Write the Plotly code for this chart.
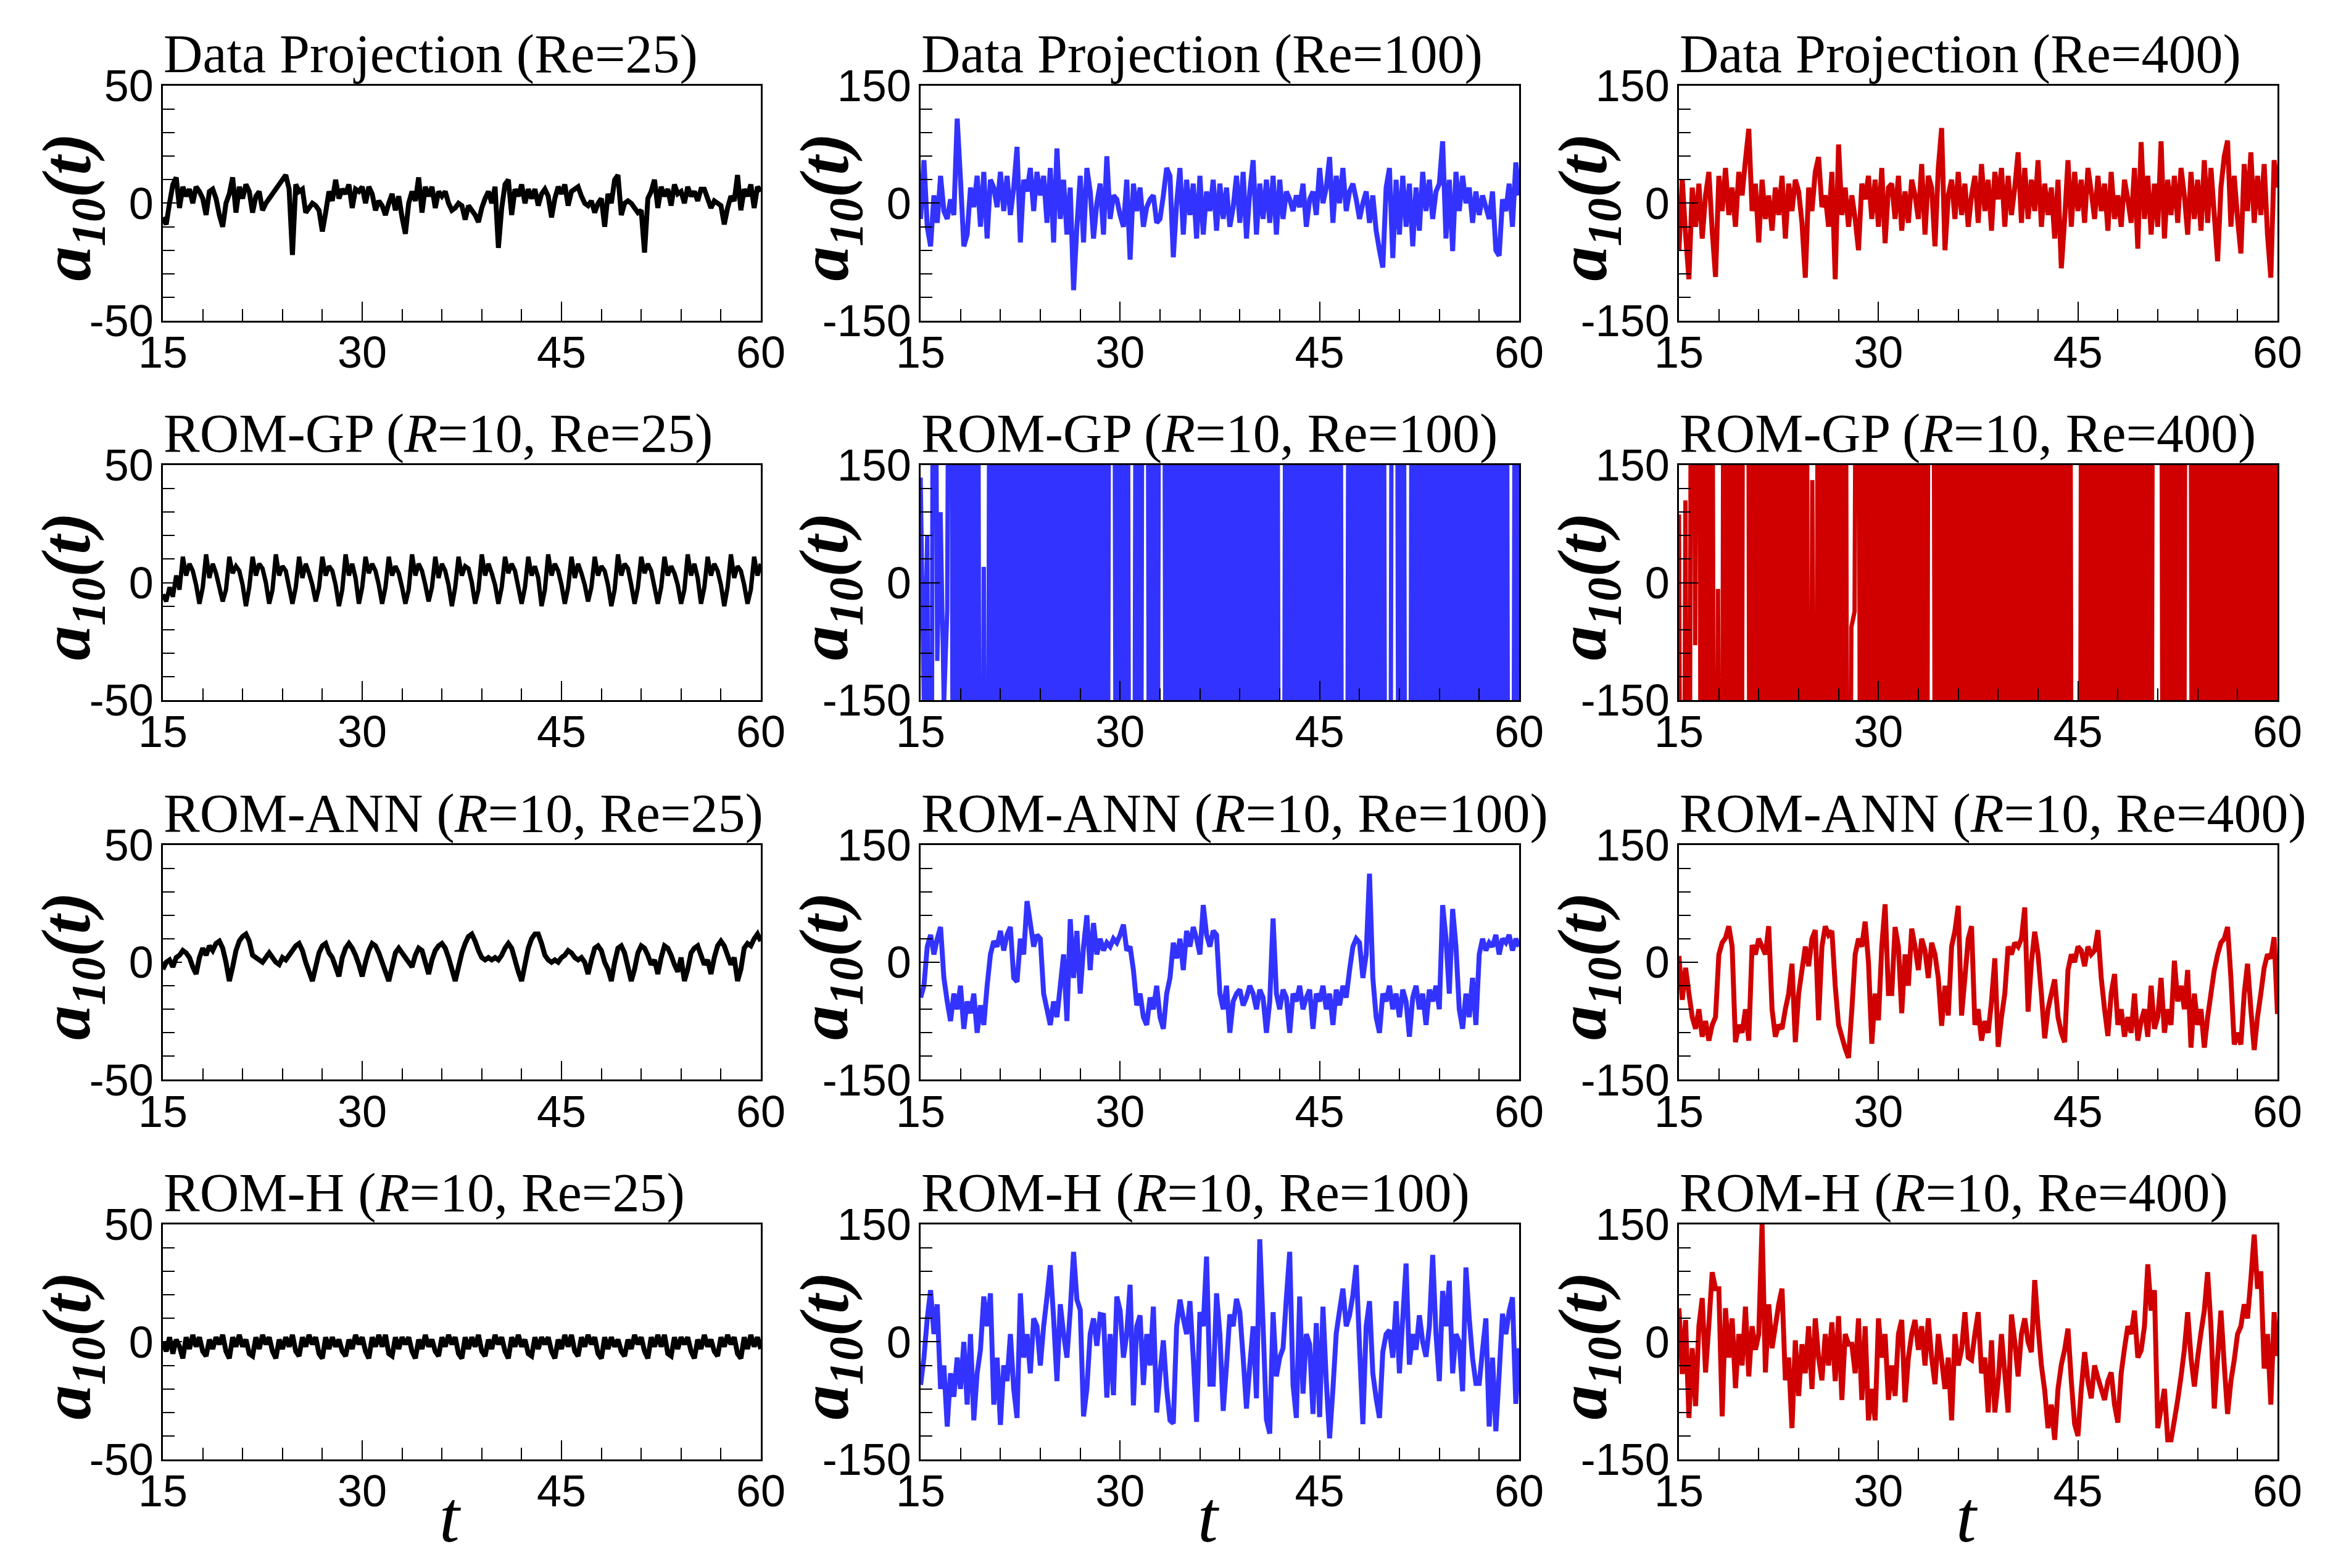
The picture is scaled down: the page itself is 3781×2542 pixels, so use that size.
import numpy as np
import plotly.graph_objects as go

dp25 = [-6, -9, 0, 8, 11, -2, 7, 3, 6, 0, 7, 5, 2, -5, 5, 6, 2, -5, -10, 0,
        4, 11, -4, 7, 2, 8, 5, -4, 3, 5, -3, 0, 2, 4, 6, 8, 10, 12, 6, -22,
        8, 5, 6, -4, -2, 0, -1, -3, -12, -4, 5, 1, 10, 2, 6, 4, 8, -2, 6, 5,
        7, 0, 7, 4, -3, 1, -1, -5, 0, 4, -3, 3, -6, -13, 0, 5, 1, 11, -4, 7,
        3, 7, -2, 5, 3, 5, 0, -3, -2, 0, -1, -7, -1, -3, -5, -8, -2, 2, 5, 0,
        7, -19, -2, 8, 10, -5, 6, 3, 8, 0, 6, 2, 6, -1, 4, 6, 3, -6, 2, 7,
        4, 8, -1, 5, 6, 7, 3, 0, -1, 1, -4, 0, 2, -10, 4, 0, 10, 12, -5, 0,
        1, 0, -2, -4, -3, -21, 2, 5, 10, -2, 7, 3, 6, -1, 8, 4, 5, 0, 7, 3,
        5, 1, 6, 6, 2, -2, 1, 0, -1, -9, -2, 3, 1, 12, -3, 6, 3, 8, -2, 7, 5]

dp100 = [-20, 55, -30, -55, 10, -25, 35, -10, -20, 5, -15, 108, 30, -55, -40, 20,
         -5, 35, -30, 40, -45, 30, 20, -5, 40, -10, 35, -15, 20, 72, -50, 30,
         15, 45, -10, 40, 10, 35, -25, 45, -50, 70, -20, 30, -40, 20, -111, -30,
         35, -50, 45, 15, -45, 0, 25, -40, 60, -20, 10, 5, -15, -30, 30, -72,
         25, -10, 20, -30, -5, 5, 10, -25, -20, 10, 45, 35, -69, 0, 45, -40,
         30, -15, 25, -45, 35, -40, 15, -10, 30, -35, 25, -20, 20, -30, -5, 35,
         -25, 40, -45, 15, 55, -40, 25, -20, 30, -25, 35, -40, 30, -20, 15, 5,
         -10, 10, -5, 25, -30, 5, 15, -15, 45, 0, 20, 59, -25, 35, 0, 45,
         -10, 15, 25, 5, -20, 0, 15, -25, 10, -35, -60, -82, 20, 45, -70, 30,
         -40, 35, -30, 25, -55, 20, -35, 40, -10, 30, -20, 15, 25, 79, -45, 30,
         -61, 40, -10, 35, 0, 20, -25, 15, -15, 10, -5, -20, 15, -60, -67, 5,
         -10, 25, -30, 52, 10]

dp400 = [-60, 30, -40, -97, 20, -30, 25, -45, 10, 40, -35, -94, 35, -10, 45, -15,
         20, -30, 40, 10, 55, 95, -10, 25, -50, 30, -20, 10, -35, 20, -15, 35,
         -45, 25, -10, 30, 15, -25, -95, 20, -10, 40, 59, -5, 10, -30, 40, -97,
         75, -15, 20, -30, 10, -20, -60, 25, 5, 35, -20, 30, -30, 45, -51, 20,
         25, -20, 35, -35, 15, -25, 30, 10, -20, 50, -40, 35, 20, -55, 45, 96,
         -60, 10, 30, -20, 40, -15, 25, -30, 10, 35, -25, 50, -10, 30, -35, 40,
         5, 45, -30, 35, -15, 20, 65, -25, 45, -20, 30, -10, 55, -30, 25, -15,
         20, -45, 30, -83, -20, 55, -30, 40, -10, 30, -25, 45, 15, -20, 35, -10,
         25, -35, 40, -20, 10, -30, 30, 5, -25, 45, -58, 78, -20, 35, -40, 25,
         -30, 79, -45, 30, -15, 35, -25, 45, 10, -40, 40, -20, 30, -35, 55, -25,
         45, -15, -74, 20, 60, 80, -30, 35, -20, -64, 50, -10, 65, -25, 35, -15,
         50, -40, -95, 55, 20]

gp25 = [-5, -8, -2, -6, 3, -3,
        11, 3, 8, 5, -1, -9, -2, 12, 2, 8, 4, -2, -8, -3, 11, 4, 7, 5, -1, -10, -2,
        11, 3, 8, 6, 0, -9, -3, 12, 3, 7, 5, -2, -9, -2, 11, 2, 8, 4, -1, -8, -2,
        11, 3, 7, 5, -1, -10, -3, 12, 3, 8, 2, -9, -2,
        11, 4, 8, 5, -1, -9, -2, 11, 3, 7, 4, -2, -9, -3, 12, 3, 8, 5, -1, -8, -2,
        11, 2, 8, 5, -1, -10, -2, 11, 3, 7, 6, 0, -9, -3, 12, 3, 8, 4, -1, -9, -2,
        11, 4, 8, 5, -2, -9, -2, 11, 3, 7, 2, -10, -3,
        12, 3, 8, 5, -1, -9, -2, 11, 2, 8, 4, -1, -8, -2, 11, 3, 7, 5, -1, -10, -3,
        12, 3, 8, 6, -1, -9, -2, 11, 4, 8, 5, -2, -9, -2, 11, 3, 7, 4, -1, -9, -3,
        12, 3, 8, 2, -9, -2,
        11, 3, 8, 5, -1, -10, -2, 12, 2, 7, 5, -1, -9, -3,
        11, 3, 8]

# ROM-GP blows up: values far outside the +-150 window
gp100 = [134, -160, 60, -1000, 1000, -100, 90, -160, -35, 1000, -1000, 1000,
         -1000, 1000, -1000, 1000, -1000, 1000, -1000, 20,
         -1000, 1000, -1000, 1000, -1000, 1000, -1000, 1000, -1000, 1000, -1000, 1000,
         -1000, 1000, -1000, 1000, -1000, 1000, -1000, 1000, -1000, 1000, -1000, 1000,
         -1000, 1000, -1000, 1000, -1000, 1000, -1000, 1000, -1000, 1000, -1000, 1000,
         -1000, 1000, 1000, -1000, 1000, -1000, 1000, -1000, -1000, 1000, -1000, 1000,
         1000, -1000, 1000, -1000, 1000, 1000, -1000, 1000, -1000, 1000, -1000, 1000,
         -1000, 1000, -1000, 1000, -1000, 1000, -1000, 1000, -1000, 1000, -1000, 1000,
         -1000, 1000, -1000, 1000, -1000, 1000, -1000, 1000, -1000, 1000, -1000, 1000,
         -1000, 1000, -1000, 1000,
         -1000, -1000, 1000, -1000, 1000, -1000, 1000, -1000, 1000, -1000, 1000, -1000,
         1000, -1000, 1000, -1000, 1000, -1000, 1000, -1000,
         -1000, 1000, -1000, 1000, -1000, 1000, -1000, 1000, -1000, 1000, -1000, 1000,
         -1000, -1000, 1000, 1000, -1000, 1000, -1000, -1000,
         1000, -1000, 1000, -1000, 1000, -1000, 1000, -1000, 1000, -1000, 1000, -1000,
         1000, -1000, 1000, -1000, 1000, -1000, 1000, -1000, 1000, -1000, 1000, -1000,
         1000, -1000, 1000, -1000,
         1000, -1000, -1000, 1000, -1000]

gp400 = [87, -1000, 105, -1000, 1000, -80, 1000, -1000, 1000, -1000, 1000, -1000,
         -8, -1000, 1000, -1000, 1000, -1000, 1000, -1000, 1000, 1000, -1000, 1000,
         -1000, 1000, -1000, 1000, -1000, 1000, -1000, 1000, -1000, 1000, -1000, 1000,
         -1000, 1000, -1000, 1000, -1000, 131, -1000, 1000, -1000, 1000, -1000, 1000,
         -1000, 1000, -1000, 1000, -1000, -57, -37, 1000,
         -1000, 1000, -1000, 1000, -1000, 1000, -1000, 1000, -1000, 1000, -1000, 1000,
         -1000, 1000, -1000, 1000, -1000, 1000, -1000, 1000, -1000, 1000, 1000, -1000,
         1000, -1000, 1000, -1000, 1000, -1000, 1000, -1000, 1000, -1000, 1000, -1000,
         1000, -1000, 1000, -1000, 1000, -1000, 1000, -1000, 1000, -1000, 1000, -1000,
         1000, -1000, 1000, -1000, 1000, -1000, 1000, -1000, 1000, -1000, 1000, -1000,
         1000, -1000, 1000, -1000, 1000, -1000, -1000, -1000,
         1000, -1000, 1000, -1000, 1000, -1000, 1000, -1000, 1000, -1000, 1000, -1000,
         1000, -1000, 1000, -1000, 1000, -1000, 1000, -1000,
         1000, -1000, 1000, 1000, 1000, -1000, 1000, -1000, 1000, -1000, 1000, -1000,
         1000, 1000, -1000, 1000,
         -1000, 1000, -1000, 1000, -1000, 1000, -1000, 1000, -1000, 1000, -1000, 1000,
         -1000, 1000, -1000, 1000, -1000, 1000, -1000, 1000, -1000, 1000, -1000, 1000,
         -1000]

ann25 = [-3, 0, 1, -2, 2, 3, 5, 4, 2, -2, -5, 2, 6, 3, 7, 5, 8, 9, 6, 0,
         -8, -2, 5, 9, 11, 12, 9, 3, 2, 1, 0, 2, 4, 2, 0, -1, 2, 1, 3, 5,
         7, 8, 5, 0, -4, -8, -2, 4, 7, 8, 4, 2, -2, -6, 2, 6, 8, 6, 3, -1,
         -6, 0, 5, 8, 7, 4, 0, -4, -8, -2, 4, 6, 4, 2, 0, -2, 3, 6, 5, 0,
         -5, 1, 5, 7, 8, 6, 2, -3, -8, -2, 4, 8, 11, 12, 9, 5, 2, 1, 2, 1,
         2, 1, 3, 6, 8, 6, 1, -4, -8, -1, 6, 10, 12, 12, 8, 3, 1, 0, 1, 0,
         2, 3, 5, 4, 2, 1, 2, 0, -5, 1, 6, 7, 5, 0, -3, -8, 0, 6, 7, 4,
         -2, -8, -3, 4, 7, 6, 3, -1, 1, -5, 2, 7, 6, 3, -1, -4, 2, -8, -3, 4,
         6, 7, 3, -1, 1, -5, 2, 7, 9, 7, 3, -1, 2, -8, -3, 6, 8, 7, 10, 12, 9]

ann100 = [-45, -30, 20, 35, 10, 30, 45, -20, -50, -75, -40, -60, -30, -85, -50, -65,
          -40, -90, -55, -80, -30, 10, 27, 20, 40, 15, 35, 45, -20, -25, 30, 10,
          78, 50, 20, 35, 30, -40, -60, -80, -50, -70, -30, 10, -75, 55, -20, 40,
          -40, 20, 60, -10, 50, 10, 30, 15, 25, 20, 30, 25, 35, 48, 15, 20,
          -10, -55, -40, -70, -80, -45, -60, -30, -70, -85, -40, -20, 25, 5, 30, -10,
          40, 20, 45, 30, 10, 73, 35, 20, 40, 35, -40, -60, -30, -90, -50, -40,
          -35, -55, -45, -30, -40, -60, -35, -45, -90, -50, 56, -40, -60, -35, -45, -90,
          -40, -50, -30, -60, -45, -35, -85, -40, -50, -30, -60, -40, -80, -35, -55, -30,
          -45, -10, 20, 30, 25, -20, 10, 113, -20, -70, -90, -40, -50, -30, -60, -40,
          -70, -35, -50, -95, -45, -30, -60, -40, -80, -35, -50, -30, -60, 73, 30, -40,
          68, 20, -60, -85, -40, -70, -20, -80, 10, 30, 15, 25, 20, 35, 10, 30,
          25, 35, 15, 30, 20]

ann400 = [8, -48, -7, -40, -70, -85, -60, -95, -75, -100, -80, -70, 10, 25, 31, 46,
          20, -102, -80, -90, -60, -100, 22, 10, 30, 20, 10, 46, -60, -95, -80, -85,
          -60, -40, -2, -102, -40, -10, 20, -5, 30, 41, -74, 20, 46, 35, 40, -30,
          -80, -95, -110, -122, -60, 10, 30, 20, 52, 0, -104, -40, -74, 20, 74, -40,
          -40, 45, 20, -65, 10, -30, 43, 20, -10, 30, 15, -20, 25, 10, -20, -81,
          -30, -68, 20, 40, 72, -68, -20, 30, 46, -80, -60, -100, -75, -90, -50, 5,
          -108, -70, -40, 20, 10, 25, 20, 30, 70, -63, 0, 39, 10, -40, -97, -60,
          -40, -22, -70, -90, -102, -10, 10, 0, 20, 15, -5, 20, 10, 15, 41, -20,
          -60, -94, -40, -15, -80, -60, -95, -70, -90, -40, -100, -75, -60, -95, -30, -85,
          -70, -20, -90, -60, -80, 2, -50, -30, -60, -10, -109, -40, -80, -60, -109, -70,
          -40, -10, 10, 25, 30, 45, -20, -105, -90, -105, -40, -2, -60, -112, -70, -40,
          -7, 10, 5, 32, -66]

h25 = [0, -4, 2, -5, 1, -2,
       -7, 2, -3, 3, -2, 2, -4, -6, 1, -3, 2, -1, 3, -4, -7, 2, -2, 3, -2, 1, -5,
       -6, 2, -3, 3, -1, 2, -4, -7, 1, -3, 2, -2, 3, -4, -6, 2, -2, 3, -1, 2, -5,
       -7, 2, -3, 2, -2, 1, -4, -6, 1, -3, 3, -1, 2, -4, -7, 2, -2, 3, -2, 3, -5,
       -6, 2, -3, 2, -1, 2, -4, -7, 1, -3, 3, -2, 1, -4, -6, 2, -2, 3, -1, 2, -5,
       -7, 2, -3, 2, -2, 3, -4, -6, 1, -3, 3, -1, 2, -4, -7, 2, -2, 3, -2, 1, -5,
       -6, 2, -3, 2, -1, 2, -4, -7, 1, -3, 3, -2, 3, -4, -6, 2, -2, 3, -1, 2, -5,
       -7, 2, -3, 2, -2, 1, -4, -6, 1, -3, 3, -1, 2, -4, -7, 2, -2, 3, -2, 3, -5,
       -6, 2, -3, 2, -1, 2, -4, -7, 1, -3, 3, -2, 1, -4, -6, 2, -2, 3, -1, 2, -5,
       -7, 2, -3, 3, -2, 2, -3]

h100 = [-55, -20, 30, 66, 10, 48, -60, -30, -108, -40, -70, -20, -60, 0, -80, 10,
        -100, -40, -10, 58, 20, 62, -80, -20, -106, -30, -50, 10, -60, -97, 62, -20,
        10, -40, 30, 20, -30, 20, 57, 98, 30, -50, 48, 10, -20, 40, 115, 54,
        41, -95, -60, 10, 30, -5, 35, 34, -71, 10, -68, 58, 40, -20, 10, 73,
        -81, 20, 34, -55, 10, -30, 45, -90, -40, 2, -60, -100, -104, 20, 54, 30,
        10, 52, -20, -102, 38, 20, 109, -54, -54, 62, 10, -88, -30, 35, 20, 55,
        38, -20, -85, -30, 20, -72, 131, 20, -99, -117, 38, -44, -20, -8, 56, 115,
        -55, -97, 58, -66, 10, -3, -92, 24, -96, 45, -50, -123, -60, 11, 40, 68,
        20, 34, 60, 98, -6, -105, 20, 52, -40, -72, -97, -13, 10, 15, -20, 52,
        -40, 30, 100, -29, 10, -10, 34, 0, -19, 20, 111, 10, -50, 65, 20, 78,
        -40, 10, 0, -63, 95, 30, -21, -53, -53, -10, 30, -108, -20, -114, -40, 36,
        10, 39, 57, -79, -8]

h400 = [43, -41, 28, -97, -8, -82, 20, 56, -39, 22, 89, 68, 68, -95, 43, -20,
        30, -59, 10, -30, 45, -44, 20, -10, 10, 150, -39, 48, -8, 20, 48, 68,
        -49, -20, -110, 2, -69, -3, -40, 20, -60, 30, -20, -49, 10, -30, 25, -50,
        33, -74, 10, -3, -3, -40, 30, -74, 20, -100, -60, -100, 30, -20, 10, -74,
        -30, -69, 10, 28, -77, -20, 10, 28, -10, 20, -30, 30, -20, -54, 10, -23,
        -60, -20, -100, 10, -30, -10, 38, -20, -23, 10, 38, -40, -20, -90, 2, -90,
        -50, 10, -40, -90, 35, 0, -44, 10, 30, 0, -13, 79, 20, -30, -62, -110,
        -80, -125, -60, -29, -10, 17, -50, -105, -120, -60, -13, -50, -72, -30, -46, -60,
        -74, -50, -39, -80, -103, -40, -8, 20, 10, 40, -20, -11, 20, 99, 40, 66,
        -110, -85, -60, -125, -125, -100, -74, -44, -10, 38, -20, -57, -20, 12, 40, 89,
        20, -85, -20, 40, -30, -92, -50, -23, 10, 20, 48, 30, 80, 137, 68, 90,
        -34, 10, -80, 38, -18]

titles = [
    "Data Projection (Re=25)", "Data Projection (Re=100)", "Data Projection (Re=400)",
    "ROM-GP (<i>R</i>=10, Re=25)", "ROM-GP (<i>R</i>=10, Re=100)", "ROM-GP (<i>R</i>=10, Re=400)",
    "ROM-ANN (<i>R</i>=10, Re=25)", "ROM-ANN (<i>R</i>=10, Re=100)", "ROM-ANN (<i>R</i>=10, Re=400)",
    "ROM-H (<i>R</i>=10, Re=25)", "ROM-H (<i>R</i>=10, Re=100)", "ROM-H (<i>R</i>=10, Re=400)",
]
series = [dp25, dp100, dp400, gp25, gp100, gp400, ann25, ann100, ann400, h25, h100, h400]
y_limits = [50, 150, 150]
x_ticks = [15, 30, 45, 60]

# ---------------- styling / layout ----------------
W, H = 3781, 2542
colors = ["#000000", "#3333FF", "#D00000"]
X_DOM = [(0.069823, 0.326104), (0.394605, 0.651150), (0.719651, 0.976197)]
Y_DOM = [(0.79544, 0.94532), (0.55350, 0.70338), (0.31137, 0.46125), (0.06924, 0.21912)]
SERIF = "Liberation Serif, Times New Roman, serif"
SANS = "Liberation Sans, Arial, sans-serif"

fig = go.Figure()
annotations = []
layout = dict(width=W, height=H, autosize=False,
              margin=dict(l=0, r=0, t=0, b=0, pad=0, autoexpand=False),
              paper_bgcolor="white", plot_bgcolor="white", showlegend=False)

for k in range(12):
    r, c = divmod(k, 3)
    idx = k + 1
    xa = "x" if idx == 1 else f"x{idx}"
    ya = "y" if idx == 1 else f"y{idx}"
    vals = series[k]
    t = np.linspace(15, 60, len(vals))
    lw = 7 if r == 1 else 8
    fig.add_trace(go.Scatter(x=t, y=vals, mode="lines",
                             line=dict(color=colors[c], width=lw, simplify=False),
                             xaxis=xa, yaxis=ya, hoverinfo="skip"))
    lim = y_limits[c]
    common = dict(showline=True, linecolor="black", linewidth=2.5, mirror=True,
                  showgrid=False, zeroline=False, ticks="inside", ticklen=31,
                  tickwidth=2, tickcolor="black", automargin=False,
                  tickfont=dict(family=SANS, size=72, color="black"))
    layout["xaxis" + ("" if idx == 1 else str(idx))] = dict(
        common, domain=list(X_DOM[c]), anchor=ya, range=[15, 60],
        tickvals=x_ticks, ticktext=[str(v) for v in x_ticks],
        ticklabelstandoff=-13,
        minor=dict(dtick=3, tick0=15, ticks="inside", ticklen=19, tickwidth=1.5,
                   tickcolor="black", showgrid=False))
    layout["yaxis" + ("" if idx == 1 else str(idx))] = dict(
        common, domain=list(Y_DOM[r]), anchor=xa, range=[-lim, lim],
        tickvals=[-lim, 0, lim], ticktext=[f"-{lim}", "0", f"{lim}"],
        ticklabelstandoff=-2,
        minor=dict(dtick=lim / 5, tick0=0, ticks="inside", ticklen=19, tickwidth=1.5,
                   tickcolor="black", showgrid=False))
    # panel title
    annotations.append(dict(text=titles[k], xref="paper", yref="paper",
                            x=X_DOM[c][0], y=Y_DOM[r][1], xanchor="left", yanchor="bottom",
                            yshift=2, showarrow=False, borderpad=0,
                            font=dict(family=SERIF, size=88, color="black")))
    # y axis title
    annotations.append(dict(text="<b><i>a<sub>10</sub>(t)</i></b>", xref="paper", yref="paper",
                            x=X_DOM[c][0], y=(Y_DOM[r][0] + Y_DOM[r][1]) / 2,
                            xanchor="center", yanchor="middle", xshift=-148, yshift=-6,
                            textangle=-90, showarrow=False,
                            font=dict(family=SERIF, size=112, color="black")))
    if r == 3:
        annotations.append(dict(text="<i>t</i>", xref="paper", yref="paper",
                                x=(X_DOM[c][0] + X_DOM[c][1]) / 2, y=Y_DOM[r][0],
                                xanchor="center", yanchor="middle", xshift=-18, yshift=-94,
                                showarrow=False,
                                font=dict(family=SERIF, size=118, color="black")))

layout["annotations"] = annotations
fig.update_layout(**layout)
fig.write_html("out.html", config={"displayModeBar": False},
               post_script="document.body.style.margin='0';document.body.style.overflow='hidden';")
